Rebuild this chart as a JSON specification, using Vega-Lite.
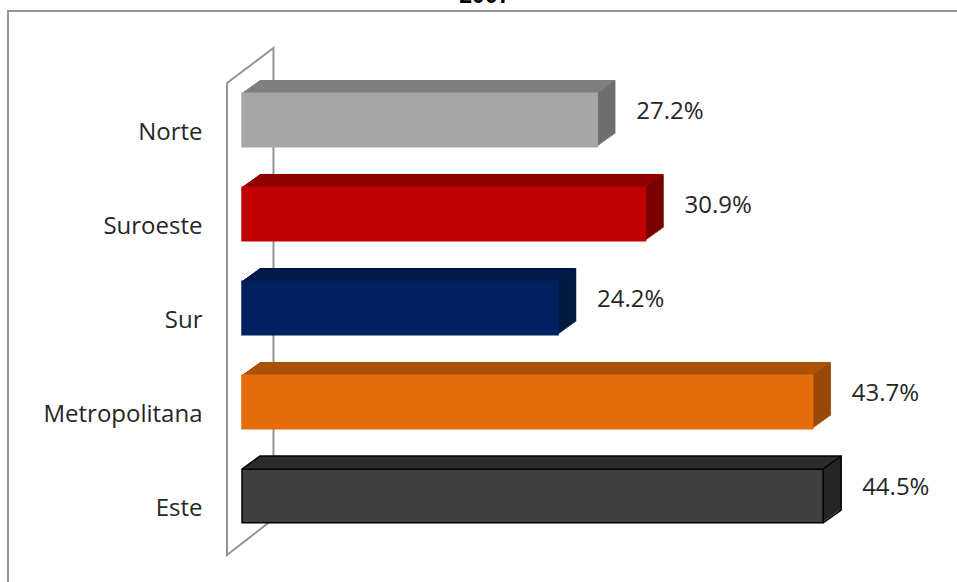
{"$schema":"https://vega.github.io/schema/vega-lite/v6.json","width":715,"height":470,"autosize":"none","padding":{"left":242,"top":73,"right":0,"bottom":39},"background":"white","config":{"view":{"stroke":null}},"data":{"values":[{"region":"Norte","valor":27.2,"etiqueta":"27.2%"},{"region":"Suroeste","valor":30.9,"etiqueta":"30.9%"},{"region":"Sur","valor":24.2,"etiqueta":"24.2%"},{"region":"Metropolitana","valor":43.7,"etiqueta":"43.7%"},{"region":"Este","valor":44.5,"etiqueta":"44.5%"}]},"encoding":{"x":{"field":"valor","type":"quantitative","scale":{"domain":[0,54.75],"nice":false},"axis":null},"y":{"field":"region","type":"nominal","sort":null,"scale":{"paddingInner":0.426,"paddingOuter":0.213},"axis":null}},"resolve":{"scale":{"y":"independent","fill":"independent","stroke":"independent"}},"layer":[{"data":{"values":[{"trazo":"pared","n":1,"px":2.41,"alto":24},{"trazo":"pared","n":2,"px":-1.15,"alto":-12},{"trazo":"pared","n":3,"px":-1.15,"alto":460},{"trazo":"pared","n":4,"px":2.41,"alto":495},{"trazo":"pared","n":5,"px":2.41,"alto":24},{"trazo":"marco","n":1,"px":-17.92,"alto":-45},{"trazo":"marco","n":2,"px":-17.92,"alto":532},{"trazo":"marco","n":3,"px":54.75,"alto":532}]},"mark":{"type":"line","color":"#949494","strokeWidth":2,"clip":false},"encoding":{"x":{"field":"px","type":"quantitative","scale":{"domain":[0,54.75],"nice":false},"axis":null},"y":{"field":"alto","type":"quantitative","scale":{"domain":[0,470],"nice":false,"zero":false},"axis":null},"detail":{"field":"trazo"},"order":{"field":"n"}}},{"data":{"values":[{"titulo":"2007","px":18.6,"alto":540}]},"mark":{"type":"text","font":"Liberation Sans","fontSize":23,"fontWeight":"bold","color":"#000000","align":"center","baseline":"alphabetic"},"encoding":{"x":{"field":"px","type":"quantitative","scale":{"domain":[0,54.75],"nice":false},"axis":null},"y":{"field":"alto","type":"quantitative","scale":{"domain":[0,470],"nice":false,"zero":false},"axis":null},"text":{"field":"titulo","type":"nominal"}}},{"encoding":{"fill":{"field":"region","type":"nominal","sort":null,"legend":null,"scale":{"domain":["Norte","Suroeste","Sur","Metropolitana","Este"],"range":["#6e6e6e","#7a0000","#001a40","#984807","#262626"]}}},"layer":[{"mark":{"type":"bar","height":53.5,"xOffset":18.2,"yOffset":-13}},{"mark":{"type":"bar","height":53.5,"xOffset":16.8,"yOffset":-12}},{"mark":{"type":"bar","height":53.5,"xOffset":15.4,"yOffset":-11}},{"mark":{"type":"bar","height":53.5,"xOffset":14,"yOffset":-10}},{"mark":{"type":"bar","height":53.5,"xOffset":12.6,"yOffset":-9}},{"mark":{"type":"bar","height":53.5,"xOffset":11.2,"yOffset":-8}},{"mark":{"type":"bar","height":53.5,"xOffset":9.8,"yOffset":-7}},{"mark":{"type":"bar","height":53.5,"xOffset":8.4,"yOffset":-6}},{"mark":{"type":"bar","height":53.5,"xOffset":7,"yOffset":-5}},{"mark":{"type":"bar","height":53.5,"xOffset":5.6,"yOffset":-4}},{"mark":{"type":"bar","height":53.5,"xOffset":4.2,"yOffset":-3}},{"mark":{"type":"bar","height":53.5,"xOffset":2.8,"yOffset":-2}},{"mark":{"type":"bar","height":53.5,"xOffset":1.4,"yOffset":-1}}]},{"encoding":{"fill":{"field":"region","type":"nominal","sort":null,"legend":null,"scale":{"domain":["Norte","Suroeste","Sur","Metropolitana","Este"],"range":["#7f7f7f","#8f0000","#00184a","#ab5208","#2b2b2b"]}}},"layer":[{"mark":{"type":"bar","height":1.3,"xOffset":17.5,"yOffset":-39.25}},{"mark":{"type":"bar","height":1.3,"xOffset":16.1,"yOffset":-38.25}},{"mark":{"type":"bar","height":1.3,"xOffset":14.7,"yOffset":-37.25}},{"mark":{"type":"bar","height":1.3,"xOffset":13.3,"yOffset":-36.25}},{"mark":{"type":"bar","height":1.3,"xOffset":11.9,"yOffset":-35.25}},{"mark":{"type":"bar","height":1.3,"xOffset":10.5,"yOffset":-34.25}},{"mark":{"type":"bar","height":1.3,"xOffset":9.1,"yOffset":-33.25}},{"mark":{"type":"bar","height":1.3,"xOffset":7.7,"yOffset":-32.25}},{"mark":{"type":"bar","height":1.3,"xOffset":6.3,"yOffset":-31.25}},{"mark":{"type":"bar","height":1.3,"xOffset":4.9,"yOffset":-30.25}},{"mark":{"type":"bar","height":1.3,"xOffset":3.5,"yOffset":-29.25}},{"mark":{"type":"bar","height":1.3,"xOffset":2.1,"yOffset":-28.25}},{"mark":{"type":"bar","height":1.3,"xOffset":0.7,"yOffset":-27.25}}]},{"mark":{"type":"bar","height":53.5,"strokeWidth":1.5},"encoding":{"y":{"field":"region","type":"nominal","sort":null,"scale":{"paddingInner":0.426,"paddingOuter":0.213},"axis":{"title":null,"ticks":false,"domain":false,"labelFont":"Open Sans","labelFontSize":24,"labelColor":"#262626","labelPadding":40,"labelOffset":13,"labelLimit":220}},"fill":{"field":"region","type":"nominal","sort":null,"legend":null,"scale":{"domain":["Norte","Suroeste","Sur","Metropolitana","Este"],"range":["#a6a6a6","#c00000","#002060","#e46c0a","#404040"]}},"stroke":{"field":"region","type":"nominal","sort":null,"legend":null,"scale":{"domain":["Norte","Suroeste","Sur","Metropolitana","Este"],"range":["#a6a6a6","#c00000","#002060","#e46c0a","#000000"]}}}},{"data":{"values":[{"trazo":"a","n":1,"px":0,"alto":74},{"trazo":"a","n":2,"px":1.38,"alto":87},{"trazo":"a","n":3,"px":45.88,"alto":87},{"trazo":"a","n":4,"px":45.88,"alto":33},{"trazo":"a","n":5,"px":44.5,"alto":20},{"trazo":"b","n":1,"px":44.5,"alto":74},{"trazo":"b","n":2,"px":45.88,"alto":87}]},"mark":{"type":"line","color":"#000000","strokeWidth":1.5},"encoding":{"x":{"field":"px","type":"quantitative","scale":{"domain":[0,54.75],"nice":false},"axis":null},"y":{"field":"alto","type":"quantitative","scale":{"domain":[0,470],"nice":false,"zero":false},"axis":null},"detail":{"field":"trazo"},"order":{"field":"n"}}},{"mark":{"type":"text","align":"left","baseline":"middle","dx":39,"dy":-8,"font":"Open Sans","fontSize":24,"color":"#262626"},"encoding":{"text":{"field":"etiqueta","type":"nominal"}}}]}
